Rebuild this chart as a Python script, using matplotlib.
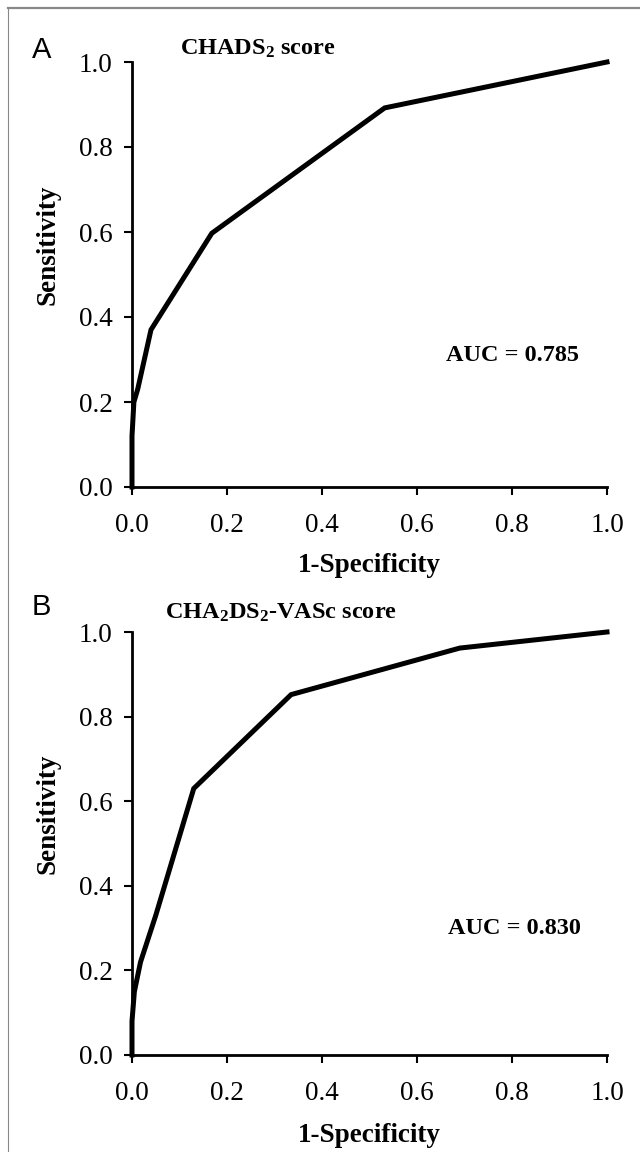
import matplotlib
matplotlib.use('Agg')
import matplotlib.pyplot as plt
from matplotlib.lines import Line2D

plt.rcParams['font.family'] = ['Liberation Serif', 'DejaVu Serif']
plt.rcParams['mathtext.fontset'] = 'custom'
plt.rcParams['mathtext.rm'] = 'Liberation Serif:bold'
plt.rcParams['mathtext.bf'] = 'Liberation Serif:bold'
plt.rcParams['mathtext.default'] = 'bf'

# ROC curve points
chads2_fpr = [0.0, 0.0, 0.004, 0.012, 0.04, 0.168, 0.532, 1.0]
chads2_tpr = [0.0, 0.12, 0.20, 0.23, 0.37, 0.597, 0.892, 1.0]
chads2_auc = 0.785

vasc_fpr = [0.0, 0.0, 0.005, 0.018, 0.05, 0.13, 0.335, 0.69, 1.0]
vasc_tpr = [0.0, 0.08, 0.15, 0.22, 0.33, 0.63, 0.852, 0.962, 1.0]
vasc_auc = 0.830

ticks = [0.0, 0.2, 0.4, 0.6, 0.8, 1.0]
tick_labels = ['0.0', '0.2', '0.4', '0.6', '0.8', '1.0']

W, H = 640, 1152


def desenhar_painel(fig, rect, fpr, tpr, titulo, auc, pos_titulo, pos_auc, y_xlabel):
    ax = fig.add_axes(rect)
    ax.plot(fpr, tpr, color='black', lw=3.6, solid_joinstyle='miter', clip_on=False, zorder=3)
    ax.set_xlim(0, 1)
    ax.set_ylim(0, 1)
    ax.set_xticks(ticks)
    ax.set_yticks(ticks)
    ax.set_xticklabels(tick_labels)
    ax.set_yticklabels(tick_labels)
    for s in ['top', 'right']:
        ax.spines[s].set_visible(False)
    for s in ['left', 'bottom']:
        ax.spines[s].set_linewidth(2.0)
    ax.tick_params(axis='both', direction='out', length=6, width=1.5, labelsize=19.5, colors='black')
    ax.tick_params(axis='x', pad=13)
    ax.tick_params(axis='y', pad=8)
    ax.set_xlabel('1-Specificity', fontsize=19.5, fontweight='bold', va='center')
    ax.set_ylabel('Sensitivity', fontsize=19.5, fontweight='bold', va='center')
    ax.xaxis.set_label_coords(0.5, y_xlabel)
    ax.yaxis.set_label_coords(-0.177, 0.57)
    ax.text(pos_titulo[0], pos_titulo[1], titulo, fontsize=17.5, fontweight='bold',
            va='center', ha='left')
    ax.text(pos_auc[0], pos_auc[1], 'AUC = %.3f' % auc, fontsize=17.5, fontweight='bold',
            va='center', ha='left')
    return ax


def main():
    fig = plt.figure(figsize=(6.4, 11.52), dpi=100)

    rect_a = [132 / W, 1 - 487 / H, 475 / W, 425 / H]
    rect_b = [132 / W, 1 - 1055 / H, 475 / W, 423 / H]

    desenhar_painel(fig, rect_a, chads2_fpr, chads2_tpr, r'CHADS$_{2}$ score',
                    chads2_auc, (0.10, 1.03), (0.66, 0.31), -0.184)
    desenhar_painel(fig, rect_b, vasc_fpr, vasc_tpr, r'CHA$_{2}$DS$_{2}$-VASc score',
                    vasc_auc, (0.07, 1.045), (0.665, 0.30), -0.19)

    fig.text(32 / W, 1 - 50 / H, 'A', fontsize=21, family='Liberation Sans', va='center', ha='left')
    fig.text(32 / W, 1 - 607 / H, 'B', fontsize=21, family='Liberation Sans', va='center', ha='left')

    # moldura cinza (so topo e esquerda, a imagem esta cortada)
    fig.add_artist(Line2D([8 / W, 1], [1 - 8 / H, 1 - 8 / H], color='#888888', lw=1.6,
                          transform=fig.transFigure))
    fig.add_artist(Line2D([8 / W, 8 / W], [0, 1 - 8 / H], color='#888888', lw=0.8,
                          transform=fig.transFigure))

    fig.savefig('out.png', dpi=100)


if __name__ == "__main__":
    main()
